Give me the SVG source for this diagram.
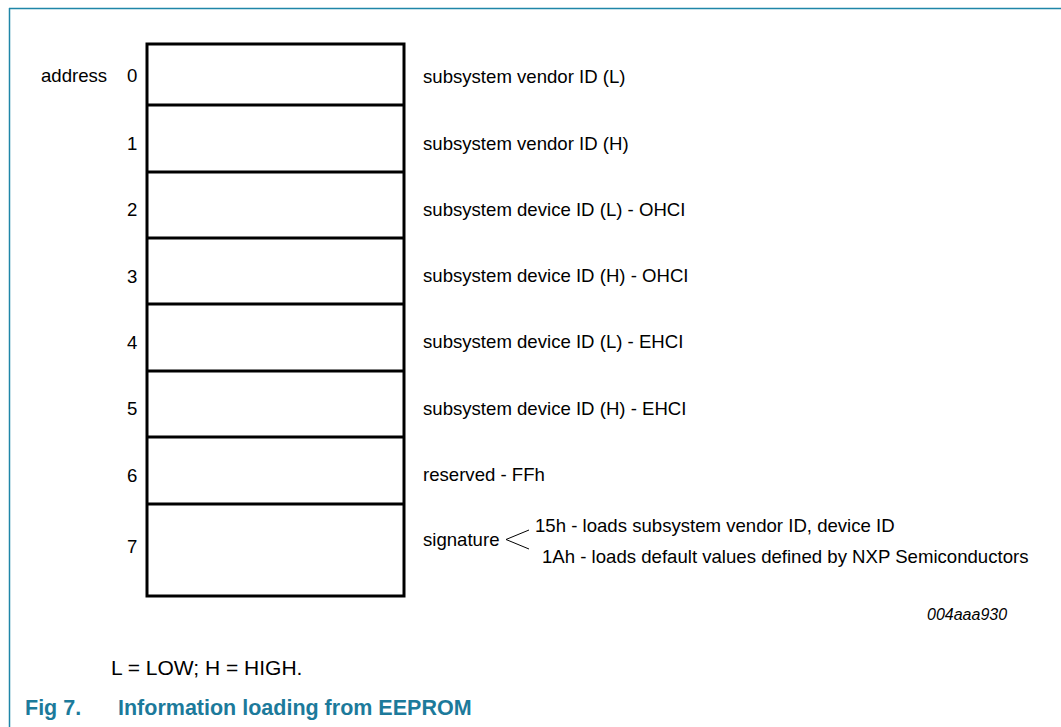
<svg xmlns="http://www.w3.org/2000/svg" width="1061" height="727" viewBox="0 0 1061 727">
<style>
.t{font-family:"Liberation Sans",Arial,sans-serif;font-size:18.6px;fill:#000}
.n{font-family:"Liberation Sans",Arial,sans-serif;font-size:18.6px;fill:#000}
.id{font-family:"Liberation Sans",Arial,sans-serif;font-size:16px;font-style:italic;fill:#000}
.note{font-family:"Liberation Sans",Arial,sans-serif;font-size:21px;fill:#000}
.cap{font-family:"Liberation Sans",Arial,sans-serif;font-size:21.5px;font-weight:bold;fill:#1c7a9b}
.box{fill:none;stroke:#000;stroke-width:3}
.div{stroke:#000;stroke-width:3}
</style>
<rect width="1061" height="727" fill="#fff"/>
<g id="frame">
<line x1="9" y1="8.5" x2="1061" y2="8.5" stroke="#1f86a8" stroke-width="1.5"/>
<line x1="9.5" y1="8" x2="9.5" y2="727" stroke="#1f86a8" stroke-width="1.5"/>
</g>
<g id="memory">
<rect class="box" x="147" y="44" width="257" height="552"/>
<line class="div" x1="147" y1="105" x2="404" y2="105"/>
<line class="div" x1="147" y1="172" x2="404" y2="172"/>
<line class="div" x1="147" y1="238" x2="404" y2="238"/>
<line class="div" x1="147" y1="304" x2="404" y2="304"/>
<line class="div" x1="147" y1="371" x2="404" y2="371"/>
<line class="div" x1="147" y1="437" x2="404" y2="437"/>
<line class="div" x1="147" y1="504" x2="404" y2="504"/>
</g>
<g id="address-labels">
<text class="t" x="41" y="82">address</text>
<text class="n" x="127" y="82">0</text>
<text class="n" x="127" y="150">1</text>
<text class="n" x="127" y="216">2</text>
<text class="n" x="127" y="283">3</text>
<text class="n" x="127" y="349">4</text>
<text class="n" x="127" y="415">5</text>
<text class="n" x="127" y="482">6</text>
<text class="n" x="127" y="553">7</text>
</g>
<g id="descriptions">
<text class="t" x="423" y="83">subsystem vendor ID (L)</text>
<text class="t" x="423" y="150">subsystem vendor ID (H)</text>
<text class="t" x="423" y="216">subsystem device ID (L) - OHCI</text>
<text class="t" x="423" y="282">subsystem device ID (H) - OHCI</text>
<text class="t" x="423" y="348">subsystem device ID (L) - EHCI</text>
<text class="t" x="423" y="415">subsystem device ID (H) - EHCI</text>
<text class="t" x="423" y="481">reserved - FFh</text>
</g>
<g id="signature">
<text class="t" x="423" y="546">signature</text>
<polyline points="529,530 506,539.5 529,549" fill="none" stroke="#000" stroke-width="1"/>
<text class="t" x="535" y="532">15h - loads subsystem vendor ID, device ID</text>
<text class="t" x="542" y="563">1Ah - loads default values defined by NXP Semiconductors</text>
</g>
<text class="id" x="927" y="620">004aaa930</text>
<text class="note" x="111" y="675">L = LOW; H = HIGH.</text>
<text class="cap" x="25" y="715">Fig 7.</text>
<text class="cap" x="118" y="715">Information loading from EEPROM</text>
</svg>
